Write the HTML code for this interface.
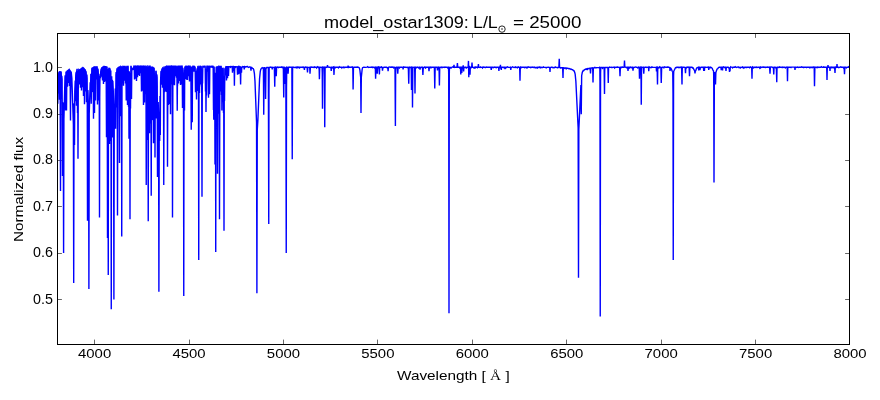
<!DOCTYPE html>
<html><head><meta charset="utf-8"><style>
html,body{margin:0;padding:0;background:#fff;width:880px;height:400px;overflow:hidden}
svg{display:block;will-change:transform}
text{font-family:"Liberation Sans",sans-serif;fill:#000}
</style></head><body>
<svg width="880" height="400" viewBox="0 0 880 400">
<rect width="880" height="400" fill="#fff"/>
<path d="M94.5,344V339.6M94.5,34V37.9M189.5,344V339.6M189.5,34V37.9M283.5,344V339.6M283.5,34V37.9M377.5,344V339.6M377.5,34V37.9M472.5,344V339.6M472.5,34V37.9M566.5,344V339.6M566.5,34V37.9M661.5,344V339.6M661.5,34V37.9M755.5,344V339.6M755.5,34V37.9M849.5,344V339.6M849.5,34V37.9M58,299.5H61.9M849,299.5H845.1M58,253.5H61.9M849,253.5H845.1M58,206.5H61.9M849,206.5H845.1M58,160.5H61.9M849,160.5H845.1M58,114.5H61.9M849,114.5H845.1M58,67.5H61.9M849,67.5H845.1" stroke="#000" stroke-width="0.6" fill="none"/>
<clipPath id="ax"><rect x="57.5" y="33.5" width="792" height="311"/></clipPath>
<path clip-path="url(#ax)" d="M57.00,73.3 L57.20,73.5 L57.28,75.3 L57.50,95.9 L57.62,84.3 L57.80,103.8 L58.14,73.5 L58.30,75.6 L58.50,93.6 L58.74,73.5 L58.88,72.2 L59.16,71.9 L59.24,72.7 L59.50,99.8 L59.74,72.9 L59.94,71.1 L60.14,72.4 L60.50,191.0 L60.82,75.1 L60.94,71.9 L61.18,72.1 L61.26,73.7 L61.50,98.5 L61.74,76.7 L61.78,76.1 L61.86,76.3 L62.12,79.4 L62.50,176.0 L62.78,104.3 L62.84,102.3 L62.92,103.6 L63.28,119.2 L63.60,253.0 L63.92,119.2 L65.00,76.8 L65.20,75.3 L65.28,77.3 L65.60,110.6 L65.86,75.9 L65.98,72.2 L66.10,71.8 L66.18,72.6 L66.50,110.6 L66.86,71.4 L67.14,70.8 L67.26,71.6 L67.50,86.7 L67.80,70.5 L68.16,70.1 L68.26,70.7 L68.50,82.9 L68.74,70.4 L68.86,69.6 L69.14,69.4 L69.22,69.7 L69.50,86.0 L69.72,71.2 L69.82,70.0 L70.10,70.5 L70.50,120.6 L70.82,72.8 L70.92,71.7 L71.20,72.0 L71.86,78.3 L73.38,124.5 L73.70,283.0 L74.02,112.0 L74.12,104.1 L74.18,103.2 L74.24,104.7 L74.50,145.0 L74.78,91.4 L75.22,80.5 L75.50,101.3 L75.74,76.0 L75.86,73.8 L76.22,72.0 L76.50,105.7 L76.74,71.9 L76.84,69.8 L77.12,69.0 L77.20,69.2 L77.50,113.0 L77.72,74.1 L78.00,158.8 L78.34,71.2 L78.50,77.3 L78.74,69.8 L78.82,69.5 L79.06,69.7 L79.24,70.4 L79.50,84.4 L79.74,70.7 L79.86,69.8 L80.14,69.6 L80.22,69.8 L80.50,87.7 L80.74,70.1 L80.84,69.1 L81.12,68.8 L81.20,69.0 L81.50,90.5 L81.78,68.7 L81.86,68.3 L82.14,68.1 L82.26,69.0 L82.50,87.2 L82.74,68.7 L82.84,67.6 L83.10,67.3 L83.16,67.5 L83.50,96.1 L83.74,69.6 L83.84,68.2 L84.16,68.6 L84.50,104.3 L84.80,69.6 L84.88,69.3 L85.16,69.7 L85.26,70.9 L85.50,91.6 L85.74,71.8 L85.86,71.0 L86.22,72.8 L86.50,102.3 L86.70,77.8 L86.90,74.6 L87.14,78.2 L87.24,91.0 L87.50,220.8 L87.80,93.4 L87.86,90.1 L87.98,91.6 L88.56,113.7 L88.90,289.0 L89.24,113.7 L90.20,82.2 L90.50,96.0 L90.82,73.8 L91.02,77.7 L91.24,103.7 L91.40,85.5 L91.52,92.4 L91.78,69.3 L91.90,68.3 L92.12,68.1 L92.26,69.4 L92.50,92.1 L92.74,69.0 L92.84,67.7 L93.06,67.5 L93.14,68.0 L93.50,118.7 L93.88,67.3 L93.98,67.0 L94.16,67.1 L94.26,69.6 L94.50,112.9 L94.82,67.3 L94.90,67.0 L95.16,67.1 L95.26,68.9 L95.50,100.6 L95.82,67.2 L95.90,67.0 L96.16,67.0 L96.26,67.7 L96.50,79.5 L96.74,67.7 L96.82,67.1 L97.06,67.0 L97.22,67.7 L97.50,104.5 L97.78,68.9 L97.86,68.6 L98.14,69.8 L98.26,71.9 L98.50,100.6 L98.72,75.5 L98.82,73.8 L99.06,75.8 L99.26,96.6 L99.50,217.5 L99.74,97.6 L99.92,78.0 L100.28,76.0 L100.50,78.2 L100.74,71.4 L101.18,68.7 L101.50,76.7 L101.74,68.3 L101.84,67.7 L102.16,67.5 L102.50,80.5 L102.74,67.8 L102.84,67.0 L103.16,66.8 L103.50,84.1 L103.74,67.4 L103.84,66.5 L104.14,66.5 L104.50,82.1 L104.74,67.4 L104.82,66.6 L105.12,66.6 L105.30,68.6 L105.50,81.2 L105.74,67.5 L105.84,66.7 L106.08,66.7 L106.16,66.9 L106.50,137.3 L106.72,73.1 L106.82,67.2 L106.94,66.8 L107.08,67.2 L107.26,90.0 L107.50,238.0 L107.88,69.0 L108.26,275.0 L108.44,127.0 L108.74,71.2 L108.82,68.2 L108.90,67.9 L109.08,68.1 L109.24,73.3 L109.50,144.1 L109.80,71.1 L109.90,69.1 L110.00,69.0 L110.14,69.3 L110.26,73.3 L110.50,141.0 L110.82,70.5 L111.02,108.4 L111.26,309.2 L111.46,122.6 L111.72,76.2 L112.00,118.8 L112.28,79.8 L112.50,137.4 L112.76,81.6 L112.80,80.8 L112.88,81.6 L113.26,90.3 L113.56,103.2 L113.90,299.5 L114.24,118.3 L114.54,111.0 L114.74,114.4 L114.80,113.7 L115.28,88.4 L115.60,128.7 L115.92,75.0 L116.16,72.1 L116.28,74.6 L116.50,107.5 L116.72,72.4 L116.94,68.2 L117.14,69.7 L117.24,82.2 L117.50,215.5 L117.86,69.3 L117.98,67.7 L118.18,67.6 L118.26,68.2 L118.50,80.4 L118.74,67.9 L118.82,67.2 L119.06,67.1 L119.18,69.6 L119.50,163.0 L119.82,69.3 L120.04,66.4 L120.26,69.2 L120.50,116.2 L120.74,69.2 L120.88,66.4 L121.20,66.6 L121.30,68.3 L121.50,85.9 L121.74,236.4 L122.00,85.9 L122.20,66.6 L122.50,82.9 L122.74,67.3 L122.88,66.4 L123.16,66.5 L123.24,67.1 L123.50,85.8 L123.80,66.6 L123.88,66.4 L124.16,66.4 L124.26,67.2 L124.50,80.7 L124.74,67.2 L124.86,66.4 L125.14,66.4 L125.22,66.7 L125.50,83.5 L125.70,68.7 L125.88,66.7 L126.24,100.5 L126.44,77.6 L126.52,79.5 L126.74,67.2 L126.84,66.4 L127.10,66.4 L127.18,66.6 L127.50,105.0 L127.74,68.6 L127.84,66.5 L128.08,66.4 L128.18,66.6 L128.50,106.7 L128.72,71.2 L129.00,138.8 L129.28,71.2 L129.50,103.4 L129.70,73.1 L130.00,219.2 L130.28,76.4 L130.50,108.6 L130.84,66.5 L131.16,66.5 L131.26,68.3 L131.50,99.0 L131.82,68.0 L132.50,70.0 L133.26,67.6 L133.50,69.9 L133.74,66.7 L134.00,66.1 L134.20,66.3 L134.50,79.5 L134.78,66.4 L134.86,66.1 L135.14,66.1 L135.26,66.8 L135.50,78.7 L135.74,66.8 L135.84,66.1 L136.18,66.2 L136.50,81.1 L136.82,66.2 L137.16,66.1 L137.26,66.7 L137.50,77.2 L137.80,66.2 L138.16,66.1 L138.26,66.6 L138.50,75.1 L138.74,66.6 L138.86,66.1 L139.14,66.1 L139.22,66.3 L139.50,76.0 L139.78,66.3 L139.86,66.1 L140.14,66.1 L140.26,66.5 L140.50,73.3 L140.74,66.5 L140.84,66.1 L141.16,66.2 L141.50,91.4 L141.78,66.6 L141.86,66.1 L142.14,66.1 L142.26,67.5 L142.50,90.8 L142.74,67.5 L142.84,66.2 L143.16,66.2 L143.50,105.0 L143.80,66.5 L143.88,66.1 L144.16,66.2 L144.26,68.1 L144.50,102.4 L144.76,67.3 L144.84,66.2 L145.12,66.1 L145.26,67.7 L145.50,94.2 L145.82,66.3 L146.02,85.1 L146.24,185.1 L146.42,113.0 L146.52,129.4 L146.74,69.7 L146.82,66.5 L146.88,66.2 L147.10,66.1 L147.26,70.3 L147.50,140.1 L147.84,66.6 L148.24,221.2 L148.44,110.5 L148.52,117.5 L148.80,66.7 L148.88,66.1 L149.08,66.1 L149.16,66.3 L149.26,69.9 L149.50,133.2 L149.78,67.4 L149.86,66.2 L150.14,66.2 L150.26,69.4 L150.50,123.4 L150.70,74.0 L150.78,67.4 L150.84,66.7 L150.90,68.2 L151.24,195.8 L151.42,114.1 L151.52,120.7 L151.80,67.2 L151.90,66.6 L152.16,66.9 L152.26,69.8 L152.50,120.0 L152.74,70.0 L152.86,67.2 L153.14,67.4 L153.22,68.8 L153.50,143.3 L153.76,70.2 L153.92,67.9 L154.18,68.5 L154.26,70.8 L154.50,111.4 L154.72,74.9 L155.00,157.5 L155.28,75.7 L155.50,114.7 L155.74,73.1 L155.86,70.9 L156.16,71.4 L156.24,73.0 L156.50,118.5 L156.72,77.8 L156.80,74.7 L156.94,74.9 L157.14,77.2 L157.24,86.1 L157.50,177.0 L157.72,102.7 L157.90,141.0 L158.18,102.1 L158.56,114.9 L158.90,291.8 L159.24,120.4 L159.34,115.2 L159.40,114.7 L159.46,116.3 L159.70,141.0 L160.00,96.0 L160.30,135.0 L160.56,82.6 L160.90,71.6 L161.18,70.9 L161.28,71.8 L161.50,84.7 L161.74,70.2 L161.86,69.1 L162.14,68.5 L162.22,68.7 L162.50,87.8 L162.74,68.7 L162.84,67.6 L163.14,67.4 L163.28,69.3 L163.54,92.9 L163.76,185.1 L164.14,67.7 L164.50,92.2 L164.78,67.4 L164.86,66.9 L165.14,66.9 L165.26,68.2 L165.50,91.6 L165.74,68.0 L165.84,66.7 L166.12,66.5 L166.20,66.8 L166.50,92.1 L166.74,67.8 L166.88,66.3 L167.06,66.4 L167.14,67.3 L167.50,166.7 L167.88,66.8 L167.96,66.2 L168.16,66.2 L168.26,68.3 L168.50,105.0 L168.78,66.9 L168.86,66.2 L169.14,66.2 L169.26,68.2 L169.50,103.9 L169.74,68.2 L169.84,66.2 L170.12,66.2 L170.20,66.7 L170.50,114.3 L170.78,67.1 L170.86,66.2 L171.10,66.1 L171.26,67.2 L171.50,84.6 L171.72,67.8 L171.82,66.2 L172.00,66.2 L172.08,66.5 L172.26,86.6 L172.50,217.5 L172.90,66.7 L172.98,66.2 L173.14,66.2 L173.26,67.2 L173.50,84.7 L173.74,67.2 L173.86,66.2 L174.14,66.2 L174.22,66.5 L174.50,85.3 L174.80,66.4 L174.88,66.2 L175.14,66.2 L175.26,66.7 L175.50,76.3 L175.74,66.7 L175.86,66.2 L176.14,66.2 L176.22,66.4 L176.50,77.7 L176.70,67.7 L176.78,66.4 L176.88,66.5 L177.24,110.8 L177.42,82.6 L177.52,86.3 L177.80,66.4 L177.88,66.2 L178.16,66.2 L178.26,67.2 L178.50,83.6 L178.78,66.5 L178.86,66.2 L179.14,66.2 L179.26,67.0 L179.50,81.1 L179.74,67.0 L179.84,66.2 L180.12,66.2 L180.20,66.4 L180.50,85.1 L180.78,66.6 L180.86,66.2 L181.14,66.2 L181.26,67.2 L181.50,84.6 L181.74,67.2 L181.84,66.3 L182.10,66.2 L182.18,66.5 L182.50,108.0 L182.86,67.9 L183.16,70.3 L183.26,73.5 L183.52,114.1 L183.76,296.0 L184.06,80.7 L184.16,72.6 L184.28,74.5 L184.50,110.4 L184.72,71.1 L184.82,67.3 L185.10,66.4 L185.30,68.0 L185.50,79.1 L185.74,66.9 L185.86,66.2 L186.14,66.2 L186.22,66.5 L186.50,79.7 L186.74,67.0 L186.84,66.3 L187.20,66.4 L187.50,80.1 L187.78,66.5 L187.86,66.3 L188.14,66.2 L188.26,66.8 L188.50,76.2 L188.74,66.8 L188.84,66.3 L189.18,66.3 L189.50,81.4 L189.76,66.8 L189.84,66.3 L190.14,66.3 L190.26,67.1 L190.50,80.7 L190.86,66.6 L191.24,129.8 L191.46,80.1 L191.78,66.6 L192.00,72.7 L192.24,122.3 L192.46,79.7 L192.78,66.6 L192.86,66.3 L193.08,66.3 L193.26,66.6 L193.50,71.7 L193.78,66.4 L194.14,66.3 L194.26,66.6 L194.50,71.8 L194.74,66.8 L194.80,66.7 L194.92,66.8 L195.18,67.6 L195.50,92.2 L195.74,71.8 L195.82,71.1 L196.20,72.6 L196.50,99.6 L196.78,70.9 L197.14,68.3 L197.26,69.1 L197.50,91.0 L197.74,67.9 L197.86,66.5 L198.14,66.4 L198.22,66.8 L198.52,97.3 L198.74,260.1 L198.98,97.3 L199.18,66.6 L199.50,93.1 L199.80,66.6 L199.88,66.3 L200.16,66.4 L200.26,67.3 L200.50,84.6 L200.78,66.7 L200.86,66.3 L201.16,66.4 L201.26,67.4 L201.50,86.5 L201.68,70.3 L202.00,196.8 L202.32,70.0 L202.50,83.5 L202.80,66.5 L202.90,66.3 L203.26,66.4 L203.50,67.5 L203.74,66.4 L204.22,66.3 L204.50,67.6 L204.74,66.4 L205.10,66.3 L205.20,66.6 L205.50,91.4 L205.72,69.3 L206.00,112.0 L206.28,69.3 L206.50,95.4 L206.78,66.9 L206.90,66.3 L207.18,66.3 L207.26,66.6 L207.50,71.8 L207.74,66.6 L207.82,66.3 L208.06,66.3 L208.20,66.7 L208.50,97.7 L208.82,66.5 L208.90,66.3 L209.16,66.4 L209.26,67.9 L209.50,94.3 L209.80,66.6 L209.88,66.3 L210.24,66.4 L210.50,67.6 L210.74,66.4 L211.22,66.3 L211.50,67.7 L211.74,66.4 L212.20,66.3 L212.50,67.8 L212.74,66.4 L213.06,66.3 L213.16,66.5 L213.48,110.1 L213.60,93.4 L213.76,119.8 L213.98,74.9 L214.18,66.5 L214.50,105.4 L214.72,72.8 L215.00,164.5 L215.28,72.8 L215.56,119.5 L215.74,252.1 L215.98,96.0 L216.18,66.7 L216.50,125.6 L216.74,69.6 L216.90,66.3 L217.10,66.7 L217.18,69.4 L217.50,173.8 L217.82,69.4 L217.98,66.4 L218.18,66.6 L218.26,69.0 L218.50,113.7 L218.74,69.0 L218.86,66.4 L219.06,66.5 L219.14,68.0 L219.50,219.2 L219.88,67.3 L219.96,66.4 L220.14,66.4 L220.26,67.7 L220.50,91.4 L220.78,66.8 L220.86,66.4 L221.16,66.4 L221.26,67.9 L221.50,95.1 L221.68,74.6 L221.90,110.6 L222.22,68.1 L222.50,102.3 L222.74,69.6 L222.88,67.8 L223.16,68.4 L223.24,69.9 L223.50,113.0 L223.70,76.1 L224.00,230.8 L224.28,80.5 L224.50,100.9 L224.84,69.0 L225.16,68.0 L225.26,68.2 L225.50,75.5 L225.74,67.4 L225.86,66.9 L226.22,67.2 L226.50,80.6 L226.84,66.7 L227.16,66.7 L227.26,67.3 L227.50,78.2 L227.82,66.7 L228.16,66.7 L228.26,67.2 L228.50,76.1 L228.82,66.7 L230.12,66.7 L230.60,67.3 L231.06,66.5 L231.80,66.8 L232.20,66.7 L232.50,72.6 L232.78,66.8 L233.16,66.6 L233.26,66.7 L233.50,70.9 L233.72,66.8 L233.80,66.5 L233.98,66.6 L234.16,69.2 L234.40,85.7 L234.64,69.2 L234.84,66.7 L235.26,66.7 L235.68,67.2 L236.18,66.7 L237.20,66.8 L237.50,74.7 L237.74,66.8 L238.18,66.5 L238.26,66.9 L238.50,74.3 L238.78,66.8 L239.14,66.7 L239.26,67.1 L239.50,73.8 L239.74,67.1 L239.84,66.7 L240.22,66.8 L240.60,84.4 L240.96,66.9 L241.18,66.7 L241.28,67.2 L241.50,72.8 L241.80,66.8 L242.18,67.3 L242.68,66.6 L243.90,66.8 L244.24,69.5 L244.60,66.8 L245.22,67.2 L245.64,66.8 L246.62,66.8 L247.16,66.4 L247.68,66.8 L248.26,67.0 L248.64,67.4 L249.22,67.0 L250.00,67.0 L250.62,67.3 L251.00,70.6 L251.28,67.8 L251.74,67.4 L252.56,68.4 L253.20,68.6 L253.74,69.7 L254.42,73.7 L254.98,81.3 L256.54,122.4 L256.90,293.2 L257.26,130.0 L257.86,120.5 L259.56,78.8 L260.26,71.6 L260.68,69.7 L261.22,68.6 L262.20,67.6 L262.68,68.0 L263.28,67.8 L263.40,68.4 L263.74,114.8 L264.12,68.1 L264.24,67.7 L264.98,67.8 L265.22,67.6 L265.28,68.2 L265.60,99.1 L265.94,68.0 L265.98,67.7 L266.28,68.2 L266.78,67.5 L268.08,67.4 L268.28,67.5 L268.36,68.2 L268.76,224.0 L268.98,92.4 L269.18,67.6 L269.28,67.4 L270.30,67.3 L270.86,67.0 L271.54,67.5 L271.92,67.4 L272.26,69.5 L272.58,67.4 L274.36,67.4 L274.74,86.8 L275.12,67.1 L275.58,67.0 L275.94,67.6 L276.24,76.2 L276.60,67.4 L277.76,67.1 L278.44,67.7 L278.94,67.3 L281.22,67.2 L281.78,66.9 L282.22,67.6 L282.66,67.3 L283.34,67.3 L283.74,97.4 L284.08,67.9 L284.16,67.4 L284.56,67.3 L284.70,68.0 L285.00,84.0 L285.28,68.3 L285.36,67.5 L285.62,68.0 L285.84,67.8 L286.24,253.0 L286.50,88.3 L286.74,67.1 L287.56,67.3 L287.80,67.5 L288.10,73.7 L288.46,67.3 L289.00,67.0 L289.72,67.2 L291.72,67.2 L291.88,68.0 L292.24,159.2 L292.54,72.2 L292.64,67.6 L293.08,67.1 L294.22,67.3 L294.66,67.5 L295.16,67.2 L295.92,67.4 L296.44,67.2 L296.98,67.9 L297.50,67.0 L298.98,67.2 L299.16,67.4 L299.40,68.5 L299.74,67.3 L302.04,67.2 L302.58,67.4 L303.14,67.0 L303.78,67.7 L304.12,67.4 L304.40,70.0 L304.76,67.2 L305.44,67.0 L306.02,67.2 L307.10,67.2 L307.50,72.5 L307.84,67.3 L309.58,67.2 L309.76,68.1 L310.00,73.7 L310.40,67.2 L310.84,67.4 L311.30,67.1 L312.16,67.3 L313.48,67.2 L313.98,67.6 L314.46,66.9 L314.92,67.2 L316.06,67.2 L316.54,67.9 L316.94,67.3 L317.64,66.8 L318.20,67.5 L318.96,67.2 L319.16,68.9 L319.40,79.3 L319.72,67.2 L320.02,67.6 L320.48,67.2 L322.06,67.3 L322.26,72.8 L322.50,108.7 L322.82,68.2 L322.96,67.1 L323.78,67.5 L324.30,67.3 L324.52,76.8 L324.74,127.3 L325.10,68.1 L325.24,67.2 L325.68,67.2 L326.10,67.5 L326.52,67.2 L327.18,67.1 L327.50,65.0 L327.76,66.5 L328.24,67.1 L329.32,67.3 L330.04,67.2 L330.54,67.6 L330.92,67.3 L331.24,71.0 L331.58,67.3 L331.86,67.3 L332.28,67.9 L332.70,67.3 L333.62,66.9 L334.00,74.9 L334.24,68.2 L334.42,67.2 L335.06,67.2 L335.50,67.7 L336.02,67.2 L337.92,67.2 L338.48,67.8 L339.28,66.7 L339.88,67.2 L341.34,67.2 L341.82,68.0 L342.34,67.2 L342.84,67.3 L343.24,67.6 L343.56,67.3 L343.76,67.9 L344.12,67.2 L344.70,67.6 L345.30,67.2 L347.44,67.2 L347.82,67.4 L348.10,65.7 L348.40,67.3 L348.90,66.9 L349.48,67.2 L351.36,67.3 L352.14,66.9 L352.66,67.2 L352.86,70.2 L353.10,89.4 L353.46,67.5 L354.22,67.1 L356.54,67.2 L357.24,67.0 L358.70,67.3 L359.40,68.1 L359.90,70.2 L360.68,77.2 L361.00,113.0 L361.32,77.2 L362.12,69.6 L362.58,67.7 L363.76,67.2 L365.74,67.4 L366.96,67.2 L367.60,66.7 L368.56,67.5 L369.08,67.2 L369.70,67.4 L371.98,67.0 L372.40,67.5 L372.86,67.2 L373.76,67.2 L374.32,67.8 L374.76,67.3 L375.18,67.2 L375.36,68.8 L375.60,78.7 L376.00,67.2 L376.82,67.2 L376.94,67.4 L377.26,73.7 L377.58,67.4 L377.82,67.2 L378.30,67.5 L378.72,66.9 L379.02,67.0 L379.40,74.4 L379.64,68.2 L379.82,67.2 L380.96,67.2 L381.56,66.8 L382.20,67.3 L382.50,70.6 L382.86,67.2 L383.32,67.7 L383.88,67.2 L386.64,67.2 L387.22,67.9 L387.72,67.2 L388.10,71.2 L388.48,67.2 L389.66,66.9 L390.36,67.3 L391.98,67.0 L393.26,67.2 L393.74,67.8 L394.22,67.2 L395.00,67.3 L395.40,126.1 L395.64,75.2 L395.84,67.3 L396.32,67.9 L396.80,67.2 L397.42,67.4 L397.76,73.7 L398.16,67.2 L399.00,67.2 L399.46,67.9 L400.04,67.1 L402.24,67.2 L402.84,67.5 L403.10,69.5 L403.36,67.3 L403.70,66.9 L404.38,67.2 L405.68,67.2 L406.12,67.5 L406.94,67.2 L407.54,67.6 L407.96,67.2 L408.34,67.3 L408.74,83.7 L409.10,67.4 L409.48,67.1 L410.04,67.5 L410.50,67.2 L411.08,67.3 L411.26,70.3 L411.50,89.9 L411.76,69.2 L411.86,67.3 L411.94,67.1 L412.08,67.2 L412.26,72.6 L412.50,107.5 L412.78,69.9 L412.86,67.7 L413.18,67.3 L414.08,67.2 L414.50,67.6 L414.66,67.5 L414.68,67.8 L415.00,93.6 L415.24,70.8 L415.44,67.2 L416.18,67.3 L416.62,67.8 L417.22,67.1 L418.06,67.3 L418.52,67.9 L418.94,67.3 L419.66,67.1 L420.00,69.7 L420.32,67.2 L420.76,67.7 L421.26,67.2 L422.50,67.2 L422.90,75.0 L423.30,67.2 L423.78,67.7 L424.30,67.1 L424.64,67.0 L425.14,67.3 L425.54,68.0 L426.10,67.2 L426.80,67.5 L427.30,67.1 L428.62,67.2 L429.00,71.2 L429.34,67.3 L430.36,67.1 L430.94,67.9 L431.52,67.2 L433.96,67.1 L434.40,67.4 L434.76,88.6 L435.16,67.3 L437.16,67.3 L437.50,70.5 L437.76,67.5 L438.02,67.8 L438.46,67.2 L438.94,67.1 L439.04,67.2 L439.40,85.5 L439.74,67.6 L439.92,67.8 L440.34,67.3 L441.24,67.1 L441.94,67.8 L442.44,67.2 L443.58,67.2 L444.10,67.4 L444.96,67.0 L445.56,67.2 L447.20,67.2 L447.70,67.8 L448.12,67.3 L448.48,67.2 L448.66,71.7 L448.74,90.7 L449.00,313.2 L449.24,100.5 L449.34,71.6 L449.50,67.2 L450.60,67.3 L451.00,68.6 L451.36,67.3 L452.16,67.2 L452.70,66.8 L453.22,67.2 L453.66,67.2 L454.00,64.9 L454.34,67.6 L454.80,67.2 L457.02,67.0 L457.40,63.0 L457.76,67.2 L459.16,67.2 L459.64,67.9 L460.10,67.3 L460.46,67.3 L460.80,74.5 L461.16,67.3 L461.42,67.3 L461.54,67.8 L461.80,73.0 L462.10,67.4 L462.34,67.2 L462.72,67.7 L462.86,67.7 L463.22,65.3 L463.60,71.5 L463.96,67.3 L464.78,67.2 L465.22,67.6 L465.60,67.2 L465.92,67.2 L466.58,67.9 L467.06,67.3 L468.14,67.1 L468.48,60.9 L468.80,77.2 L469.14,67.3 L469.54,66.8 L469.70,67.1 L470.00,74.7 L470.30,67.5 L470.50,67.2 L471.10,67.2 L471.52,67.6 L471.66,67.5 L472.00,62.5 L472.34,67.1 L473.36,67.3 L473.84,67.9 L474.26,67.3 L474.66,67.2 L475.00,68.6 L475.18,67.6 L475.62,67.0 L477.02,67.2 L477.48,67.7 L478.06,67.2 L478.40,64.0 L478.78,67.2 L479.98,67.4 L480.60,66.8 L481.12,67.2 L482.06,67.3 L482.52,67.9 L483.12,66.9 L483.96,67.3 L484.78,67.2 L485.24,67.6 L486.30,67.0 L487.02,67.2 L490.84,67.2 L491.24,70.0 L491.64,67.2 L492.66,67.2 L493.14,67.7 L493.54,67.3 L494.20,67.0 L494.58,67.3 L495.64,67.3 L496.12,67.8 L496.64,67.2 L498.32,67.3 L498.64,67.6 L498.90,70.9 L499.20,67.2 L499.40,67.0 L500.18,67.3 L500.44,64.7 L500.66,68.8 L500.98,67.3 L501.30,69.8 L501.54,67.6 L501.72,67.2 L503.12,67.1 L503.82,67.6 L504.24,67.3 L504.64,67.2 L505.00,69.2 L505.38,67.2 L506.02,67.8 L506.44,67.3 L507.44,66.8 L508.10,67.2 L509.94,67.4 L510.40,67.2 L510.80,69.8 L511.10,67.3 L511.46,67.6 L512.52,66.8 L513.16,67.2 L513.94,67.4 L514.60,67.2 L515.04,67.5 L515.66,66.9 L516.12,67.2 L516.82,67.3 L517.26,67.9 L517.74,67.2 L518.16,66.9 L518.68,67.2 L519.56,67.3 L519.68,67.6 L520.00,80.7 L520.24,68.9 L520.48,67.0 L520.72,67.0 L521.22,67.7 L521.76,67.3 L524.38,67.2 L524.88,67.8 L525.34,67.3 L526.36,67.3 L526.94,68.0 L527.36,67.3 L528.12,66.9 L528.74,67.2 L530.26,67.3 L530.72,67.6 L532.04,67.0 L532.60,67.2 L533.52,67.3 L533.94,67.6 L534.58,67.1 L535.42,67.8 L536.06,67.3 L536.70,67.8 L537.16,67.3 L537.50,68.6 L537.82,67.3 L539.24,67.3 L539.70,67.0 L540.18,67.8 L540.70,67.3 L542.52,67.5 L543.40,66.9 L544.00,67.3 L545.68,67.4 L546.16,68.0 L546.68,67.4 L548.92,67.2 L549.70,67.6 L550.00,72.0 L550.26,67.8 L550.50,67.4 L551.42,67.4 L551.98,67.0 L553.06,67.8 L553.70,67.4 L554.62,67.7 L555.20,67.0 L555.78,67.4 L557.30,67.5 L557.80,67.9 L558.54,67.2 L558.88,67.2 L559.24,58.9 L559.60,67.5 L560.44,67.7 L560.86,68.1 L561.42,67.7 L562.52,67.7 L562.66,67.9 L563.00,78.0 L563.26,68.6 L563.62,67.8 L564.28,67.9 L564.72,68.3 L565.16,68.0 L565.68,68.0 L566.20,68.8 L566.82,68.1 L568.14,68.3 L568.62,68.6 L569.10,68.4 L569.76,68.7 L570.18,69.3 L570.60,69.0 L571.36,69.1 L572.36,69.8 L572.92,69.9 L573.46,70.6 L573.84,70.7 L574.14,71.0 L574.74,72.5 L575.16,74.2 L575.86,81.3 L578.14,127.7 L578.50,277.7 L578.84,129.2 L580.90,85.1 L581.26,114.3 L581.66,75.7 L582.32,72.3 L583.24,70.4 L583.42,70.4 L583.74,70.6 L584.34,69.8 L585.76,69.1 L586.18,69.2 L586.84,68.8 L587.26,70.0 L587.68,68.6 L588.34,68.8 L589.00,68.3 L589.46,68.6 L589.84,68.2 L590.14,68.2 L590.50,73.5 L590.84,68.1 L592.56,67.9 L592.76,69.8 L593.00,82.5 L593.34,68.1 L593.64,68.4 L594.02,67.8 L594.92,67.4 L595.92,68.0 L596.52,67.6 L598.34,67.6 L598.86,67.7 L599.42,67.3 L599.84,68.2 L599.96,81.0 L600.24,316.6 L600.50,96.0 L600.58,73.2 L600.76,67.5 L602.02,67.5 L602.52,68.2 L603.04,67.5 L604.04,67.4 L604.14,67.7 L604.50,94.0 L604.76,69.7 L604.84,67.8 L605.16,67.5 L607.74,67.4 L607.90,67.6 L608.26,82.9 L608.56,67.9 L608.60,67.6 L609.44,67.0 L609.98,67.4 L611.44,67.3 L611.94,67.7 L612.40,67.4 L613.44,67.3 L614.04,67.1 L614.64,68.0 L615.12,67.3 L616.64,67.4 L617.10,66.9 L617.70,67.3 L619.62,67.4 L620.00,76.2 L620.34,67.4 L620.46,67.3 L621.06,67.3 L621.60,67.6 L622.14,66.9 L622.74,67.3 L623.78,67.4 L624.12,67.3 L624.50,60.5 L624.82,66.9 L626.02,67.3 L626.44,67.8 L626.92,67.3 L627.64,67.3 L628.00,71.0 L628.40,67.3 L629.22,67.3 L629.70,68.0 L630.10,67.3 L630.46,67.1 L631.32,67.3 L631.76,67.8 L632.18,67.3 L632.62,67.3 L633.00,70.6 L633.38,67.3 L634.10,67.5 L635.84,66.9 L636.36,67.2 L637.28,67.3 L637.76,67.9 L638.54,67.0 L639.08,67.2 L639.26,68.8 L639.50,78.7 L639.80,67.7 L639.92,67.3 L640.82,67.0 L641.02,72.9 L641.26,104.7 L641.52,70.2 L641.60,67.9 L641.96,67.3 L643.24,67.2 L643.42,67.4 L643.76,73.7 L644.16,67.3 L645.34,67.4 L645.88,67.1 L646.40,67.5 L646.92,67.2 L648.22,67.3 L648.52,67.8 L648.74,71.1 L649.12,66.9 L649.66,67.2 L650.50,67.3 L650.92,67.7 L651.88,66.9 L652.48,67.2 L654.20,67.4 L656.08,67.2 L656.26,67.8 L656.50,71.5 L656.76,67.5 L656.88,67.0 L657.12,67.0 L657.50,84.4 L657.74,69.5 L657.94,67.2 L658.54,67.3 L659.00,67.8 L659.64,66.8 L660.14,67.2 L660.80,67.2 L660.90,67.4 L661.24,82.9 L661.66,67.3 L662.04,67.6 L662.52,67.2 L663.40,67.2 L663.92,67.9 L664.60,66.9 L665.72,67.3 L667.44,67.3 L667.94,66.9 L668.50,67.2 L669.58,67.3 L669.76,67.8 L670.00,71.0 L670.40,67.7 L671.38,69.1 L672.22,71.3 L672.76,72.2 L673.00,93.7 L673.24,259.9 L673.58,75.9 L673.74,71.3 L675.46,67.8 L676.34,67.3 L676.78,67.6 L677.24,67.2 L678.14,67.2 L678.70,67.6 L679.42,67.2 L680.00,67.6 L680.52,67.2 L681.36,67.0 L681.60,67.2 L682.00,84.5 L682.24,69.6 L682.46,67.2 L684.28,67.2 L684.80,67.5 L685.16,67.2 L685.50,73.3 L685.84,67.1 L686.62,67.8 L687.04,67.3 L687.90,67.0 L689.12,67.3 L689.50,76.2 L689.90,67.2 L691.82,67.2 L692.38,67.8 L692.74,67.6 L693.02,67.8 L694.70,71.0 L695.00,73.5 L695.28,71.1 L695.76,70.7 L696.44,68.6 L696.92,67.9 L698.00,67.3 L698.36,67.2 L698.48,67.5 L698.74,70.5 L699.12,67.2 L699.62,67.2 L699.72,67.3 L700.00,70.3 L700.28,67.3 L700.60,67.8 L701.12,67.2 L703.36,67.2 L703.74,71.0 L704.02,67.5 L704.40,71.0 L704.64,67.7 L704.84,67.1 L706.54,67.4 L708.32,67.0 L708.76,70.0 L709.08,67.3 L709.72,67.2 L710.18,67.7 L710.66,67.1 L711.64,67.7 L712.20,68.3 L712.94,70.1 L713.50,70.9 L713.66,73.2 L713.76,86.4 L714.00,182.5 L714.36,73.8 L714.50,72.7 L714.78,72.8 L715.20,73.5 L715.50,84.5 L715.86,72.4 L717.06,69.1 L717.34,68.8 L717.80,68.7 L718.38,67.7 L719.14,67.3 L720.28,67.2 L720.56,67.3 L720.88,67.8 L721.04,67.8 L721.24,70.3 L721.54,67.2 L722.12,67.2 L722.50,70.5 L722.86,67.2 L723.52,66.8 L724.46,67.6 L724.94,67.2 L725.60,67.2 L726.00,71.0 L726.30,67.3 L726.60,67.6 L727.04,67.2 L728.24,67.2 L728.78,67.9 L729.16,67.3 L729.50,72.0 L729.76,67.7 L730.00,71.2 L730.28,67.4 L730.74,66.7 L731.32,67.2 L732.16,67.3 L732.62,67.9 L733.10,67.2 L734.58,67.2 L735.16,66.7 L736.24,67.4 L737.56,67.2 L738.16,66.8 L739.10,67.7 L739.52,67.3 L740.00,67.2 L740.56,67.9 L741.02,67.3 L741.88,67.2 L742.44,66.9 L743.22,68.0 L743.60,67.3 L743.88,67.2 L744.34,67.2 L744.78,67.7 L745.38,67.2 L746.26,67.2 L746.70,67.5 L747.16,67.1 L749.06,67.2 L749.58,67.7 L750.34,66.9 L751.50,67.6 L751.68,67.6 L752.00,78.7 L752.24,68.7 L752.50,66.9 L753.22,67.3 L753.66,67.9 L754.26,67.2 L755.54,67.2 L756.02,67.6 L756.50,67.1 L757.82,67.5 L758.32,67.2 L759.62,67.2 L760.00,69.0 L760.28,67.2 L760.66,66.8 L761.68,67.5 L762.10,67.2 L763.18,67.0 L764.82,67.2 L765.22,67.5 L765.66,67.1 L767.02,67.2 L767.80,67.0 L769.22,67.4 L769.62,67.2 L770.00,73.7 L770.36,67.3 L771.60,66.9 L772.62,67.3 L773.04,67.8 L773.40,67.1 L773.76,74.5 L774.08,67.2 L775.26,67.2 L775.76,67.8 L776.34,67.1 L776.76,82.2 L776.98,69.5 L777.18,67.2 L778.42,67.2 L778.90,67.6 L779.50,66.9 L780.06,67.2 L781.34,67.2 L781.82,67.5 L782.44,67.2 L782.88,67.6 L783.34,67.2 L784.70,67.2 L785.32,67.9 L785.78,67.3 L786.78,67.0 L787.22,68.0 L787.50,81.2 L787.74,69.1 L787.94,67.2 L790.52,67.2 L791.02,67.6 L791.46,67.1 L794.44,67.1 L794.74,67.4 L795.00,70.0 L795.24,67.6 L795.44,67.2 L796.00,67.2 L796.48,67.5 L797.30,67.0 L798.56,67.4 L799.06,67.2 L801.12,67.2 L801.72,66.9 L802.28,67.2 L803.34,67.2 L803.78,67.6 L804.22,67.2 L804.98,67.1 L806.20,67.2 L806.68,67.6 L807.18,67.2 L809.32,67.1 L809.90,67.9 L810.44,67.2 L811.56,67.2 L812.06,67.7 L812.50,67.2 L813.64,67.0 L814.10,67.3 L814.22,68.5 L814.50,86.2 L814.86,67.4 L815.06,67.5 L815.52,67.2 L816.42,67.2 L817.00,67.7 L817.42,67.2 L817.92,67.0 L819.00,67.5 L819.46,67.2 L820.78,67.2 L821.34,66.7 L821.84,67.1 L822.44,67.3 L823.32,67.2 L823.76,66.9 L824.36,67.2 L826.58,67.2 L826.76,68.9 L827.00,79.9 L827.28,67.8 L827.34,67.1 L827.76,66.8 L828.00,65.0 L828.32,67.1 L829.56,67.2 L829.70,67.4 L830.00,71.0 L830.22,67.9 L830.76,67.2 L831.06,67.1 L831.44,67.2 L831.92,67.9 L832.46,67.2 L833.20,67.2 L833.66,67.7 L834.10,67.2 L834.62,67.2 L835.00,72.9 L835.30,67.4 L835.42,67.1 L836.18,67.2 L836.68,67.8 L837.00,64.0 L837.30,67.1 L838.02,67.2 L838.40,67.6 L839.02,67.2 L839.62,67.5 L840.74,66.8 L841.34,67.2 L843.02,67.2 L843.52,67.9 L844.12,67.0 L844.50,74.3 L844.88,67.2 L845.78,67.2 L846.28,67.9 L846.72,67.3 L847.76,67.2 L848.34,66.7 L848.84,67.1 L849.54,67.2 L849.98,67.5" stroke="#0000ff" stroke-width="1.4" fill="none" stroke-linejoin="miter" stroke-miterlimit="2"/>
<rect x="57.5" y="33.5" width="792" height="311" fill="none" stroke="#000" stroke-width="1"/>
<text x="78.00" y="357.8" style="font-size:13.22px" textLength="33.19" lengthAdjust="spacingAndGlyphs">4000</text><text x="172.43" y="357.8" style="font-size:13.22px" textLength="33.19" lengthAdjust="spacingAndGlyphs">4500</text><text x="266.86" y="357.8" style="font-size:13.22px" textLength="33.19" lengthAdjust="spacingAndGlyphs">5000</text><text x="361.29" y="357.8" style="font-size:13.22px" textLength="33.19" lengthAdjust="spacingAndGlyphs">5500</text><text x="455.72" y="357.8" style="font-size:13.22px" textLength="33.19" lengthAdjust="spacingAndGlyphs">6000</text><text x="550.15" y="357.8" style="font-size:13.22px" textLength="33.19" lengthAdjust="spacingAndGlyphs">6500</text><text x="644.58" y="357.8" style="font-size:13.22px" textLength="33.19" lengthAdjust="spacingAndGlyphs">7000</text><text x="739.01" y="357.8" style="font-size:13.22px" textLength="33.19" lengthAdjust="spacingAndGlyphs">7500</text><text x="833.44" y="357.8" style="font-size:13.22px" textLength="33.19" lengthAdjust="spacingAndGlyphs">8000</text><text x="33" y="303.50" style="font-size:14px" textLength="19.89" lengthAdjust="spacingAndGlyphs">0.5</text><text x="33" y="257.10" style="font-size:14px" textLength="19.89" lengthAdjust="spacingAndGlyphs">0.6</text><text x="33" y="210.70" style="font-size:14px" textLength="19.89" lengthAdjust="spacingAndGlyphs">0.7</text><text x="33" y="164.30" style="font-size:14px" textLength="19.89" lengthAdjust="spacingAndGlyphs">0.8</text><text x="33" y="117.90" style="font-size:14px" textLength="19.89" lengthAdjust="spacingAndGlyphs">0.9</text><text x="33" y="71.50" style="font-size:14px" textLength="19.89" lengthAdjust="spacingAndGlyphs">1.0</text>
<text x="324" y="27.9" style="font-size:17.2px" textLength="144.84" lengthAdjust="spacingAndGlyphs">model_ostar1309:</text>
<text x="473" y="27.9" style="font-size:16.5px" textLength="24.75" lengthAdjust="spacingAndGlyphs">L/L</text>
<circle cx="502" cy="29.1" r="3.2" fill="none" stroke="#000" stroke-width="0.85"/>
<circle cx="502" cy="29.1" r="0.75" fill="#000"/>
<text x="513" y="27.9" style="font-size:16.5px" textLength="68.38" lengthAdjust="spacingAndGlyphs">= 25000</text>
<text x="397" y="379.9" style="font-size:13.5px" textLength="112.73" lengthAdjust="spacingAndGlyphs">Wavelength [ <tspan style="font-family:'Liberation Serif',serif">&#xC5;</tspan> ]</text>
<text transform="translate(23,242) rotate(-90)" style="font-size:13.6px" textLength="105.16" lengthAdjust="spacingAndGlyphs">Normalized flux</text>
</svg>
</body></html>
